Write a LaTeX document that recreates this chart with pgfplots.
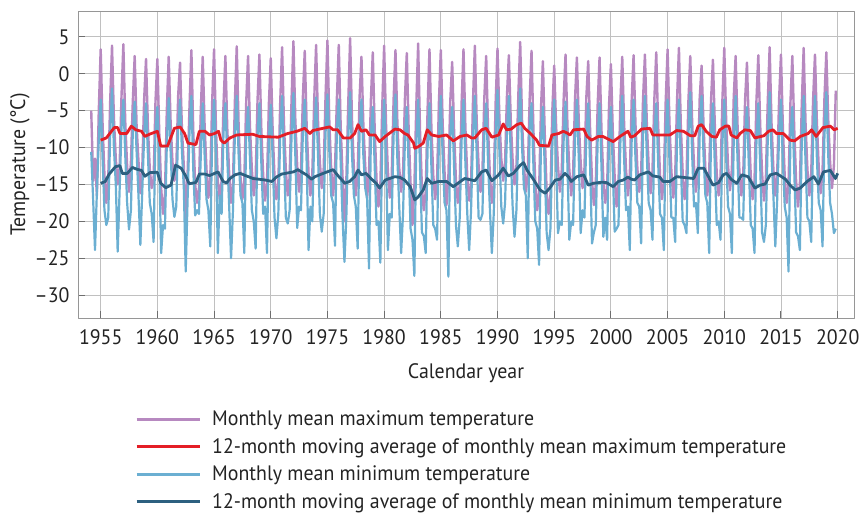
\documentclass[border=0pt]{standalone}
\usepackage{fontspec}
\setmainfont[FakeStretch=0.95]{PT Sans}
\usepackage{pgfplots}
\pgfplotsset{compat=1.18}
\definecolor{cmax}{RGB}{183,137,192}
\definecolor{cmaxma}{RGB}{228,30,38}
\definecolor{cmin}{RGB}{107,175,210}
\definecolor{cminma}{RGB}{45,96,128}
\definecolor{gridgray}{RGB}{192,192,192}
\definecolor{framegray}{RGB}{150,150,150}
\definecolor{tickgray}{RGB}{110,110,110}
\definecolor{txt}{RGB}{35,35,35}
\newcommand\lf{\fontsize{21}{25}\selectfont}
\begin{document}
\begin{tikzpicture}
\useasboundingbox (0bp,0bp) rectangle (860bp,516bp);
\begin{axis}[
  at={(78bp,198bp)}, anchor=south west,
  width=776bp, height=307bp, scale only axis,
  xmin=1953, xmax=2021.44, ymin=-33.1, ymax=8.5,
  xtick={1955,1960,...,2020},
  xticklabels={1955,1960,1965,1970,1975,1980,1985,1990,1995,2000,2005,2010,2015,2020},
  ytick={-30,-25,...,5},
  yticklabels={–30,–25,–20,–15,–10,–5,0,5},
  grid=major, major grid style={color=gridgray, line width=0.9bp},
  axis line style={color=framegray, line width=0.9bp},
  tick pos=left, tick align=inside, major tick length=7bp,
  tick style={color=tickgray, line width=1bp},
  tick label style={font=\lf, text=txt},
  xticklabel style={yshift=-8bp},
  yticklabel style={xshift=-5bp},
  xlabel={Calendar year}, ylabel={Temperature (°C)},
  label style={font=\lf, text=txt},
  xlabel style={at={(rel axis cs:0.5,-0.18)}, anchor=center},
  ylabel style={at={(rel axis cs:-0.0747,0.5)}, anchor=center},
  legend style={at={(0.0735,-0.296)}, anchor=north west, draw=none, fill=none,
    font=\lf, text=txt, cells={anchor=west}, row sep=7.2bp, column sep=9bp, inner sep=0bp},
  legend image code/.code={\draw[#1] (0bp,0bp) -- (63bp,0bp);},
  line join=round,
]
\addlegendimage{cmax, line width=2.6bp}
\addlegendentry{Monthly mean maximum temperature}
\addlegendimage{cmaxma, line width=3bp}
\addlegendentry{12-month moving average of monthly mean maximum temperature}
\addlegendimage{cmin, line width=2.6bp}
\addlegendentry{Monthly mean minimum temperature}
\addlegendimage{cminma, line width=3bp}
\addlegendentry{12-month moving average of monthly mean minimum temperature}

% Monthly mean maximum (samples every 2 months from Mar 1954)
\addplot[cmax, line width=2.4bp, forget plot] table[row sep=\\, header=false, x expr={1954.1667+\coordindex/6}, y index=0] {
-5\\ -14.5\\ -11.5\\ -16.5\\ -5\\
3.3\\ -6.8\\ -13.8\\ -17.5\\ -14.2\\ -4.0\\
3.8\\ -6.0\\ -11.5\\ -15.0\\ -12.8\\ -3.2\\
4.0\\ -6.5\\ -12.5\\ -16.0\\ -12.0\\ -3.8\\
2.4\\ -7.0\\ -11.8\\ -16.2\\ -13.0\\ -3.5\\
2.0\\ -7.2\\ -13.0\\ -15.5\\ -14.5\\ -3.8\\
2.0\\ -8.0\\ -15.5\\ -19.0\\ -16.5\\ -5.0\\
2.3\\ -6.5\\ -12.0\\ -14.5\\ -13.0\\ -3.0\\
1.5\\ -7.5\\ -12.5\\ -21.0\\ -13.5\\ -4.5\\
3.2\\ -7.8\\ -15.0\\ -17.5\\ -15.5\\ -4.8\\
2.3\\ -7.0\\ -13.0\\ -16.8\\ -14.0\\ -3.8\\
3.3\\ -7.2\\ -14.5\\ -17.0\\ -14.5\\ -4.2\\
2.4\\ -7.5\\ -13.5\\ -17.5\\ -15.0\\ -3.9\\
3.7\\ -7.0\\ -14.0\\ -17.0\\ -14.5\\ -4.0\\
2.4\\ -7.2\\ -13.0\\ -16.5\\ -14.2\\ -3.6\\
2.6\\ -7.4\\ -13.8\\ -17.2\\ -14.8\\ -4.1\\
2.1\\ -7.6\\ -14.0\\ -17.0\\ -15.0\\ -4.0\\
3.6\\ -6.8\\ -13.2\\ -16.5\\ -14.0\\ -3.6\\
4.4\\ -6.2\\ -12.5\\ -16.0\\ -13.0\\ -3.2\\
3.1\\ -7.0\\ -13.5\\ -16.5\\ -13.5\\ -3.6\\
3.9\\ -6.3\\ -12.0\\ -15.5\\ -13.0\\ -3.0\\
4.5\\ -6.5\\ -13.0\\ -16.5\\ -13.0\\ -3.3\\
3.9\\ -7.0\\ -14.0\\ -20.0\\ -14.5\\ -4.2\\
4.8\\ -6.3\\ -12.8\\ -16.5\\ -13.5\\ -3.2\\
2.3\\ -6.8\\ -12.5\\ -16.8\\ -13.5\\ -3.5\\
2.9\\ -7.5\\ -14.5\\ -18.0\\ -15.2\\ -4.5\\
3.8\\ -6.8\\ -13.2\\ -16.8\\ -14.0\\ -3.6\\
3.2\\ -6.5\\ -12.8\\ -16.0\\ -13.5\\ -3.4\\
2.8\\ -7.8\\ -15.0\\ -20.5\\ -15.5\\ -4.6\\
4.1\\ -7.8\\ -15.5\\ -18.5\\ -16.0\\ -4.8\\
3.3\\ -7.2\\ -13.8\\ -17.0\\ -14.5\\ -3.8\\
3.2\\ -7.0\\ -13.5\\ -17.8\\ -14.0\\ -3.7\\
1.6\\ -7.5\\ -14.5\\ -17.5\\ -15.0\\ -4.0\\
3.3\\ -7.2\\ -14.0\\ -17.2\\ -14.8\\ -4.0\\
3.8\\ -6.6\\ -12.5\\ -16.0\\ -13.5\\ -3.4\\
2.4\\ -7.4\\ -14.0\\ -17.5\\ -14.8\\ -4.0\\
3.4\\ -6.0\\ -11.5\\ -14.5\\ -12.0\\ -3.0\\
2.5\\ -6.2\\ -11.8\\ -15.0\\ -12.5\\ -3.0\\
4.3\\ -6.5\\ -12.5\\ -16.0\\ -13.5\\ -3.5\\
3.1\\ -7.6\\ -15.0\\ -18.5\\ -16.0\\ -4.8\\
1.7\\ -8.2\\ -16.0\\ -19.0\\ -16.5\\ -5.0\\
1.1\\ -7.0\\ -12.5\\ -16.0\\ -13.0\\ -3.5\\
2.6\\ -7.0\\ -13.0\\ -16.5\\ -13.5\\ -3.5\\
2.2\\ -6.5\\ -12.0\\ -15.5\\ -12.8\\ -3.2\\
1.7\\ -7.6\\ -14.5\\ -17.8\\ -15.0\\ -4.2\\
2.2\\ -7.5\\ -14.5\\ -17.5\\ -15.5\\ -4.3\\
1.3\\ -7.8\\ -14.0\\ -18.0\\ -15.0\\ -4.0\\
2.3\\ -6.8\\ -13.0\\ -16.5\\ -13.8\\ -3.6\\
2.5\\ -6.8\\ -12.8\\ -16.0\\ -13.5\\ -3.5\\
2.6\\ -6.6\\ -12.5\\ -16.2\\ -13.2\\ -3.4\\
2.9\\ -7.0\\ -13.8\\ -17.0\\ -14.5\\ -3.8\\
3.3\\ -6.8\\ -13.2\\ -16.8\\ -14.0\\ -3.6\\
3.5\\ -7.0\\ -13.5\\ -17.0\\ -14.2\\ -3.8\\
2.4\\ -6.6\\ -12.5\\ -16.0\\ -13.2\\ -3.3\\
1.1\\ -6.8\\ -13.0\\ -16.5\\ -13.5\\ -3.5\\
1.9\\ -7.0\\ -13.5\\ -16.5\\ -14.0\\ -3.6\\
3.5\\ -6.4\\ -12.5\\ -15.8\\ -13.0\\ -3.2\\
2.4\\ -6.8\\ -13.2\\ -16.5\\ -14.0\\ -3.6\\
1.5\\ -7.2\\ -13.8\\ -17.0\\ -14.5\\ -3.8\\
2.5\\ -7.0\\ -13.5\\ -17.2\\ -14.2\\ -3.8\\
3.6\\ -6.7\\ -13.0\\ -16.5\\ -13.5\\ -3.5\\
2.6\\ -7.2\\ -14.0\\ -17.5\\ -15.0\\ -4.0\\
2.4\\ -7.4\\ -14.5\\ -18.0\\ -15.0\\ -4.2\\
3.5\\ -6.7\\ -13.0\\ -16.5\\ -13.5\\ -3.5\\
2.6\\ -6.6\\ -12.8\\ -16.2\\ -13.2\\ -3.4\\
2.9\\ -6.2\\ -12.0\\ -15.5\\ -12.5\\ -2.3\\
};

% Monthly mean minimum
\addplot[cmin, line width=2.2bp, forget plot] table[row sep=\\, header=false, x expr={1954.1667+\coordindex/6}, y index=0] {
-10.6\\ -17\\ -23.9\\ -16\\ -9\\
-3.5\\ -11.5\\ -18.5\\ -20.5\\ -19.5\\ -8.5\\
-2.0\\ -10.0\\ -15.0\\ -24.1\\ -16.0\\ -7.5\\
-3.5\\ -11.0\\ -17.5\\ -21.1\\ -18.5\\ -8.0\\
-3.8\\ -10.5\\ -16.5\\ -23.2\\ -16.0\\ -8.5\\
-4.0\\ -11.0\\ -17.5\\ -19.0\\ -22.8\\ -8.0\\
-4.5\\ -12.5\\ -24.3\\ -20.5\\ -21.0\\ -9.5\\
-3.3\\ -10.5\\ -17.0\\ -19.4\\ -18.0\\ -7.5\\
-3.5\\ -10.5\\ -15.5\\ -26.8\\ -17.0\\ -8.0\\
-3.0\\ -13.0\\ -19.2\\ -18.5\\ -19.0\\ -11.0\\
-4.0\\ -11.0\\ -17.0\\ -18.5\\ -23.4\\ -8.5\\
-3.5\\ -11.0\\ -24.3\\ -16.5\\ -19.0\\ -8.0\\
-4.0\\ -11.5\\ -18.0\\ -25.0\\ -18.5\\ -8.5\\
-3.0\\ -11.0\\ -16.5\\ -17.5\\ -24.3\\ -8.5\\
-4.5\\ -11.5\\ -18.5\\ -20.0\\ -23.7\\ -8.5\\
-4.0\\ -12.0\\ -19.0\\ -18.0\\ -24.3\\ -9.0\\
-4.2\\ -11.5\\ -19.5\\ -22.3\\ -19.0\\ -8.5\\
-3.0\\ -11.5\\ -19.5\\ -20.3\\ -18.5\\ -8.5\\
-2.6\\ -11.0\\ -20.9\\ -18.0\\ -18.5\\ -8.0\\
-3.5\\ -12.0\\ -23.9\\ -18.0\\ -20.0\\ -8.5\\
-3.2\\ -11.0\\ -19.0\\ -21.4\\ -19.0\\ -8.0\\
-2.8\\ -10.5\\ -16.5\\ -17.5\\ -23.3\\ -7.5\\
-3.5\\ -12.0\\ -19.5\\ -25.5\\ -19.5\\ -9.0\\
-2.5\\ -11.0\\ -16.5\\ -18.0\\ -23.7\\ -8.0\\
-3.5\\ -11.0\\ -15.5\\ -17.0\\ -26.4\\ -8.5\\
-4.5\\ -12.5\\ -20.5\\ -20.0\\ -25.6\\ -9.5\\
-3.5\\ -11.5\\ -23.9\\ -19.0\\ -19.5\\ -8.5\\
-2.8\\ -11.5\\ -18.0\\ -24.3\\ -19.0\\ -9.0\\
-4.5\\ -13.0\\ -21.0\\ -22.5\\ -27.4\\ -10.0\\
-3.5\\ -13.0\\ -21.5\\ -22.0\\ -24.3\\ -10.0\\
-4.0\\ -12.5\\ -20.5\\ -21.0\\ -22.5\\ -9.0\\
-3.0\\ -11.5\\ -17.5\\ -18.5\\ -27.5\\ -8.5\\
-4.5\\ -12.5\\ -20.5\\ -23.4\\ -19.5\\ -9.0\\
-3.5\\ -12.0\\ -19.0\\ -23.9\\ -18.5\\ -9.0\\
-3.0\\ -11.0\\ -19.5\\ -19.8\\ -19.0\\ -8.5\\
-4.0\\ -12.0\\ -18.5\\ -24.3\\ -19.0\\ -9.0\\
-2.2\\ -10.5\\ -18.0\\ -20.3\\ -17.5\\ -8.0\\
-3.0\\ -11.0\\ -18.0\\ -22.1\\ -18.5\\ -8.0\\
-2.0\\ -10.0\\ -15.5\\ -16.5\\ -25.0\\ -7.5\\
-4.0\\ -12.5\\ -20.0\\ -21.0\\ -25.9\\ -9.5\\
-4.5\\ -13.0\\ -21.5\\ -23.9\\ -21.0\\ -10.0\\
-3.5\\ -12.0\\ -21.6\\ -20.0\\ -20.5\\ -9.0\\
-3.8\\ -12.5\\ -22.5\\ -20.0\\ -20.5\\ -9.0\\
-3.5\\ -11.5\\ -21.6\\ -18.5\\ -19.5\\ -8.5\\
-4.0\\ -12.5\\ -23.0\\ -21.5\\ -20.5\\ -9.0\\
-4.0\\ -12.5\\ -22.1\\ -19.5\\ -22.5\\ -9.0\\
-4.5\\ -13.0\\ -21.4\\ -21.0\\ -20.5\\ -9.5\\
-3.0\\ -11.5\\ -18.5\\ -18.0\\ -23.9\\ -9.0\\
-3.5\\ -11.5\\ -17.5\\ -18.0\\ -23.0\\ -8.5\\
-3.0\\ -11.0\\ -17.5\\ -18.5\\ -22.5\\ -8.5\\
-4.0\\ -12.0\\ -19.0\\ -19.5\\ -23.9\\ -9.0\\
-3.5\\ -12.0\\ -19.5\\ -19.5\\ -22.8\\ -9.0\\
-3.5\\ -12.0\\ -20.0\\ -20.5\\ -21.6\\ -8.5\\
-2.5\\ -11.0\\ -18.0\\ -17.5\\ -21.6\\ -8.0\\
-3.0\\ -11.0\\ -16.5\\ -17.5\\ -24.3\\ -8.5\\
-4.0\\ -12.5\\ -20.5\\ -20.0\\ -22.5\\ -9.5\\
-3.5\\ -11.5\\ -18.0\\ -19.0\\ -24.3\\ -9.0\\
-3.0\\ -11.5\\ -19.5\\ -19.5\\ -19.8\\ -9.0\\
-4.5\\ -12.5\\ -20.5\\ -21.0\\ -24.3\\ -9.5\\
-4.0\\ -12.5\\ -21.5\\ -22.8\\ -20.5\\ -9.0\\
-2.5\\ -11.0\\ -16.5\\ -23.4\\ -17.0\\ -8.5\\
-3.5\\ -12.0\\ -18.0\\ -19.5\\ -26.8\\ -9.0\\
-4.5\\ -13.0\\ -21.5\\ -22.0\\ -23.9\\ -9.5\\
-3.0\\ -12.0\\ -19.5\\ -20.0\\ -22.8\\ -9.0\\
-3.0\\ -11.5\\ -17.5\\ -18.5\\ -23.4\\ -8.5\\
-2.5\\ -11.0\\ -17.5\\ -19.0\\ -21.6\\ -21.0\\
};

% 12-month moving average of maximum
\addplot[cmaxma, line width=2.8bp, forget plot] coordinates {
(1955.0,-9.0) (1955.5,-8.7) (1955.8,-8.1) (1956.2,-7.3) (1956.5,-7.3) (1956.7,-8.1) (1957.3,-8.1) (1957.7,-7.1) (1958.1,-7.6) (1958.6,-7.8) (1958.9,-8.5) (1959.3,-8.2) (1960.0,-7.8) (1960.3,-9.8) (1960.9,-9.8) (1961.5,-7.4) (1962.0,-7.2) (1962.4,-8.1) (1962.7,-9.4) (1963.4,-9.6) (1963.7,-7.8) (1964.2,-7.8) (1964.6,-8.3) (1965.05,-8.1) (1965.4,-7.8) (1965.6,-9.0) (1965.9,-9.4) (1966.4,-8.7) (1967.0,-8.3) (1968.4,-8.2) (1969.0,-8.5) (1970.65,-8.6) (1971.5,-8.1) (1972.3,-7.8) (1973.0,-7.4) (1973.45,-8.1) (1973.7,-7.7) (1974.6,-7.4) (1975.2,-7.2) (1975.5,-7.6) (1975.9,-7.6) (1976.4,-8.7) (1977.0,-8.7) (1977.4,-8.1) (1977.7,-6.9) (1978.0,-7.8) (1978.4,-7.6) (1978.7,-8.3) (1979.2,-8.3) (1979.6,-9.2) (1980.1,-8.5) (1980.95,-7.5) (1981.4,-7.6) (1981.8,-8.1) (1982.1,-8.3) (1982.6,-9.4) (1982.7,-10.1) (1983.0,-9.9) (1983.45,-9.4) (1983.8,-7.6) (1984.2,-8.3) (1984.8,-8.5) (1985.5,-8.3) (1986.1,-9.1) (1986.7,-8.5) (1987.3,-8.3) (1987.7,-8.7) (1988.0,-8.7) (1988.6,-7.6) (1989.0,-7.4) (1989.5,-8.6) (1990.1,-8.3) (1990.5,-6.8) (1990.8,-7.6) (1991.2,-7.5) (1991.7,-6.9) (1992.1,-6.7) (1992.4,-7.4) (1992.9,-8.1) (1993.45,-9.0) (1993.7,-9.7) (1994.5,-9.8) (1994.8,-8.3) (1995.4,-8.1) (1995.8,-7.8) (1996.1,-8.0) (1996.4,-8.3) (1996.7,-7.6) (1997.6,-7.5) (1997.9,-8.5) (1998.3,-9.0) (1998.9,-8.5) (1999.3,-8.5) (2000.2,-9.2) (2000.8,-8.5) (2001.5,-7.8) (2001.75,-8.6) (2002.1,-8.4) (2002.7,-7.5) (2003.45,-7.4) (2003.7,-8.3) (2005.2,-8.3) (2005.8,-7.7) (2006.4,-7.8) (2007.0,-8.4) (2007.4,-8.4) (2007.7,-7.1) (2008.0,-6.9) (2008.4,-7.8) (2008.9,-8.5) (2009.3,-8.6) (2009.6,-7.6) (2010.1,-7.1) (2010.4,-7.1) (2010.6,-8.3) (2011.1,-8.7) (2011.4,-8.1) (2011.8,-7.6) (2012.3,-7.7) (2012.7,-8.7) (2013.5,-8.4) (2013.9,-7.8) (2014.3,-7.6) (2014.6,-8.1) (2015.2,-8.1) (2015.8,-9.0) (2016.2,-9.1) (2016.7,-8.5) (2017.4,-8.1) (2017.7,-7.6) (2018.1,-8.5) (2018.7,-7.3) (2019.35,-7.1) (2019.7,-7.6) (2020.0,-7.4)
};

% 12-month moving average of minimum
\addplot[cminma, line width=2.8bp, forget plot] coordinates {
(1955.0,-14.85) (1955.4,-14.6) (1955.75,-13.6) (1956.3,-12.6) (1956.7,-12.45) (1956.9,-13.5) (1957.35,-13.5) (1957.8,-12.7) (1958.2,-12.95) (1958.6,-13.1) (1958.9,-13.9) (1959.35,-13.4) (1960.0,-13.35) (1960.3,-14.85) (1960.75,-15.45) (1961.2,-15.1) (1961.6,-12.4) (1962.1,-12.8) (1962.5,-13.85) (1962.8,-14.9) (1963.4,-14.75) (1963.7,-13.6) (1964.2,-13.6) (1964.6,-13.8) (1965.35,-13.3) (1965.8,-14.6) (1966.1,-14.8) (1966.4,-14.2) (1966.85,-13.7) (1967.3,-13.5) (1967.85,-13.85) (1968.45,-14.2) (1969.5,-14.4) (1970.1,-14.6) (1970.5,-14.0) (1970.95,-13.6) (1972.0,-13.3) (1972.4,-13.0) (1972.7,-13.3) (1973.15,-13.7) (1973.6,-14.3) (1973.9,-13.95) (1974.8,-13.4) (1975.5,-13.0) (1975.95,-13.85) (1976.4,-14.6) (1976.5,-14.85) (1976.95,-14.6) (1977.4,-13.95) (1977.7,-13.05) (1978.0,-13.7) (1978.4,-13.5) (1978.9,-14.3) (1979.3,-14.85) (1979.6,-15.5) (1980.1,-14.4) (1980.95,-13.95) (1981.4,-14.05) (1981.8,-14.4) (1982.3,-15.3) (1982.7,-17.1) (1983.0,-16.7) (1983.45,-15.75) (1983.8,-14.2) (1984.2,-14.85) (1984.8,-14.6) (1985.5,-14.6) (1986.1,-15.3) (1986.5,-14.85) (1987.1,-14.2) (1987.7,-14.4) (1988.0,-14.5) (1988.6,-13.3) (1989.0,-13.05) (1989.5,-14.5) (1990.1,-13.7) (1990.5,-12.8) (1990.95,-13.85) (1991.4,-13.5) (1992.0,-12.4) (1992.3,-12.05) (1992.6,-13.05) (1993.2,-14.4) (1993.75,-15.75) (1994.2,-16.2) (1994.6,-15.5) (1995.1,-14.4) (1995.5,-14.3) (1995.95,-13.5) (1996.25,-13.95) (1996.5,-14.6) (1997.0,-13.95) (1997.6,-13.7) (1998.0,-15.1) (1998.45,-14.85) (1999.2,-14.7) (1999.6,-14.75) (2000.2,-15.3) (2000.65,-14.6) (2001.1,-14.4) (2001.5,-14.0) (2001.8,-14.3) (2002.1,-14.4) (2002.55,-13.7) (2003.3,-13.3) (2003.7,-13.85) (2004.3,-14.0) (2004.6,-14.6) (2005.2,-14.6) (2005.8,-13.95) (2007.3,-14.2) (2007.7,-12.8) (2008.2,-12.8) (2008.6,-13.95) (2009.0,-15.1) (2009.5,-14.75) (2009.9,-13.7) (2010.2,-13.5) (2010.6,-14.3) (2011.1,-14.85) (2011.55,-13.7) (2012.1,-13.95) (2012.7,-15.5) (2013.15,-15.1) (2013.6,-14.95) (2014.05,-13.7) (2014.6,-13.5) (2015.4,-14.3) (2015.8,-15.1) (2016.25,-15.75) (2016.7,-15.5) (2017.3,-14.6) (2017.9,-13.95) (2018.3,-14.95) (2018.75,-13.3) (2019.35,-13.1) (2019.8,-14.2) (2020.0,-13.5)
};
\end{axis}
\end{tikzpicture}
\end{document}
